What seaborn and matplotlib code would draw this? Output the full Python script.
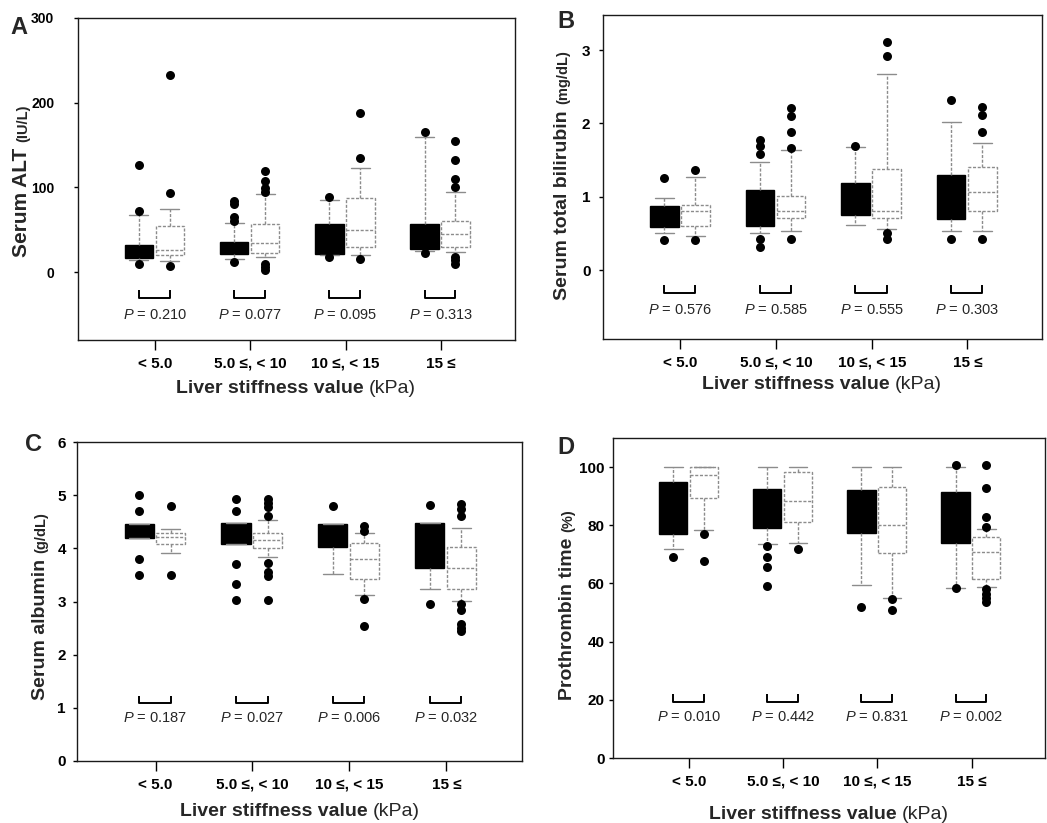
import matplotlib
matplotlib.use("Agg")
import matplotlib.pyplot as plt
import pandas as pd
import seaborn as sns

# ---------------------------------------------------------------- data
stiffness_bins = ["< 5.0", "5.0 \u2264, < 10", "10 \u2264, < 15", "15 \u2264"]

# five-number summaries per stiffness bin:
# (lower whisker, Q1, median, Q3, upper whisker)
alt_g1 = [(14, 17, 24, 32, 68), (16, 22, 28, 36, 58),
          (20, 22, 40, 57, 85), (25, 27, 42, 57, 160)]
alt_g2 = [(13, 20, 26, 54, 75), (18, 23, 35, 57, 92),
          (20, 30, 50, 87, 123), (24, 30, 45, 61, 95)]
alt_g1_out = [[126, 72, 10], [84, 80, 65, 61, 12], [89, 18], [165, 23]]
alt_g2_out = [[233, 94, 7], [119, 108, 99, 95, 10, 6, 3],
              [188, 135, 16], [155, 133, 110, 101, 18, 14, 10]]
alt_p = ["0.210", "0.077", "0.095", "0.313"]

bil_g1 = [(0.50, 0.59, 0.75, 0.87, 0.98), (0.51, 0.60, 0.85, 1.09, 1.47),
          (0.61, 0.75, 0.95, 1.19, 1.68), (0.53, 0.70, 1.00, 1.30, 2.02)]
bil_g2 = [(0.47, 0.60, 0.81, 0.89, 1.27), (0.53, 0.71, 0.81, 1.01, 1.64),
          (0.56, 0.71, 0.80, 1.38, 2.68), (0.53, 0.80, 1.06, 1.40, 1.74)]
bil_g1_out = [[1.26, 0.41], [1.78, 1.69, 1.58, 0.42, 0.31], [1.69], [2.32, 0.42]]
bil_g2_out = [[1.37, 0.41], [2.21, 2.10, 1.88, 1.67, 0.42],
              [3.11, 2.92, 0.50, 0.42], [2.23, 2.11, 1.89, 0.42]]
bil_p = ["0.576", "0.585", "0.555", "0.303"]

alb_g1 = [(4.20, 4.20, 4.35, 4.46, 4.46), (4.08, 4.08, 4.30, 4.48, 4.48),
          (3.51, 4.02, 4.30, 4.45, 4.45), (3.24, 3.63, 4.10, 4.48, 4.48)]
alb_g2 = [(3.92, 4.08, 4.22, 4.28, 4.37), (3.84, 4.00, 4.15, 4.28, 4.53),
          (3.12, 3.42, 3.80, 4.10, 4.28), (3.01, 3.24, 3.63, 4.02, 4.38)]
alb_g1_out = [[5.0, 4.7, 3.8, 3.5], [4.92, 4.7, 3.7, 3.32, 3.02], [4.8],
              [4.82, 2.95]]
alb_g2_out = [[4.8, 3.5], [4.92, 4.85, 4.78, 4.6, 3.73, 3.55, 3.48, 3.02],
              [4.42, 4.33, 3.04, 2.54],
              [4.84, 4.74, 4.6, 2.96, 2.84, 2.58, 2.5, 2.44]]
alb_p = ["0.187", "0.027", "0.006", "0.032"]

pt_g1 = [(72, 77, 86, 95, 100), (73.5, 79, 86, 92.5, 100),
         (59.5, 77.5, 85, 92, 100), (58.5, 74, 83, 91.5, 100)]
pt_g2 = [(78.5, 89.5, 97.3, 100, 100), (74, 81, 88.3, 98.3, 100),
         (55, 70.5, 80, 93, 100), (58.7, 61.5, 70.8, 75.8, 78.8)]
pt_g1_out = [[69], [73, 69, 65.5, 59], [52], [100.8, 58.5]]
pt_g2_out = [[77, 67.7], [72], [54.5, 50.8],
             [100.8, 92.8, 83, 79.5, 58, 56.5, 55, 53.5]]
pt_p = ["0.010", "0.442", "0.831", "0.002"]

# ---------------------------------------------------------------- style
sns.set_theme(style="ticks")
plt.rcParams["font.family"] = ["Liberation Sans", "DejaVu Sans"]
plt.rcParams["mathtext.fontset"] = "custom"
plt.rcParams["mathtext.it"] = "Liberation Sans:italic"
plt.rcParams["mathtext.rm"] = "Liberation Sans"

W_PX, H_PX = 1047, 823
fig = plt.figure(figsize=(W_PX / 100, H_PX / 100), dpi=100)
fig.patch.set_facecolor("white")

OFF1, OFF2, BOX_W = -0.17, 0.155, 0.30
GREY = "#8c8c8c"
DASH = (0, (2.2, 1.2))


def px_axes(l, t, r, b):
    return fig.add_axes([l / W_PX, 1 - b / H_PX, (r - l) / W_PX, (b - t) / H_PX])


def to_stats(summary):
    return [dict(whislo=s[0], q1=s[1], med=s[2], q3=s[3], whishi=s[4], fliers=[])
            for s in summary]


def draw_panel(ax, g1, g2, g1_out, g2_out, pvals, ylim, yticks, ypad, ysize,
               bracket_y, bracket_top, ptext_y):
    n = len(stiffness_bins)
    pos1 = [i + OFF1 for i in range(n)]
    pos2 = [i + OFF2 for i in range(n)]
    # solid boxes
    ax.bxp(to_stats(g1), positions=pos1, widths=BOX_W, capwidths=0.2,
           patch_artist=True, showfliers=False, manage_ticks=False,
           boxprops=dict(facecolor="black", edgecolor="black", lw=1),
           whiskerprops=dict(color=GREY, lw=1, ls=DASH),
           capprops=dict(color=GREY, lw=1),
           medianprops=dict(color="black", lw=1))
    # open boxes
    ax.bxp(to_stats(g2), positions=pos2, widths=BOX_W, capwidths=0.2,
           patch_artist=True, showfliers=False, manage_ticks=False,
           boxprops=dict(facecolor="white", edgecolor=GREY, lw=1, ls=DASH),
           whiskerprops=dict(color=GREY, lw=1, ls=DASH),
           capprops=dict(color=GREY, lw=1),
           medianprops=dict(color=GREY, lw=1, ls=DASH))
    # outliers
    rows = []
    for i in range(n):
        rows += [(pos1[i], v) for v in g1_out[i]]
        rows += [(pos2[i], v) for v in g2_out[i]]
    out = pd.DataFrame(rows, columns=["x", "value"])
    sns.scatterplot(data=out, x="x", y="value", ax=ax, color="black", s=42,
                    linewidth=0, zorder=5, legend=False)
    # comparison brackets and P values
    tr = ax.get_xaxis_transform()
    for i, p in enumerate(pvals):
        ax.plot([pos1[i], pos1[i], pos2[i], pos2[i]],
                [bracket_top, bracket_y, bracket_y, bracket_top],
                transform=tr, color="black", lw=1.4, clip_on=False,
                solid_capstyle="butt")
        ax.text(i, ptext_y, r"$\mathit{P}$ = " + p, transform=tr,
                ha="center", va="center", fontsize=10.5)
    ax.set_xlim(-0.81, 3.78)
    ax.set_ylim(*ylim)
    ax.set_xticks(range(n))
    ax.set_xticklabels(stiffness_bins)
    ax.set_yticks(yticks)
    ax.set_yticklabels([f"{t:g}" for t in yticks])
    ax.set_xlabel("")
    ax.set_ylabel("")
    ax.tick_params(axis="x", length=7, width=1, pad=5, labelsize=11,
                   colors="black")
    ax.tick_params(axis="y", length=3, width=1, pad=ypad, labelsize=ysize,
                   colors="black")
    for lbl in ax.get_xticklabels() + ax.get_yticklabels():
        lbl.set_fontweight("bold")
    for sp in ax.spines.values():
        sp.set_visible(True)
        sp.set_linewidth(1.0)
        sp.set_color("#1a1a1a")
    ax.set_facecolor("white")


axA = px_axes(78, 18, 515, 340)
draw_panel(axA, alt_g1, alt_g2, alt_g1_out, alt_g2_out, alt_p,
           (-80, 300), [0, 100, 200, 300], 14, 10, 0.13, 0.155, 0.078)
axB = px_axes(603, 15, 1042, 339)
draw_panel(axB, bil_g1, bil_g2, bil_g1_out, bil_g2_out, bil_p,
           (-0.94, 3.48), [0, 1, 2, 3], 6, 11, 0.142, 0.167, 0.09)
axC = px_axes(77, 442, 522, 761)
draw_panel(axC, alb_g1, alb_g2, alb_g1_out, alb_g2_out, alb_p,
           (0, 6), [0, 1, 2, 3, 4, 5, 6], 5, 11, 0.182, 0.204, 0.135)
axD = px_axes(613, 438, 1045, 758)
draw_panel(axD, pt_g1, pt_g2, pt_g1_out, pt_g2_out, pt_p,
           (0, 110), [0, 20, 40, 60, 80, 100], 3, 11, 0.175, 0.2, 0.128)

renderer = fig.canvas.get_renderer()


def stacked_ylabel(x_px, y_px, main, unit, size=14):
    t = fig.text(x_px / W_PX, 1 - y_px / H_PX, main, rotation=90,
                 rotation_mode="anchor", ha="left", va="baseline",
                 fontsize=size, fontweight="bold")
    bb = t.get_window_extent(renderer)
    fig.text(x_px / W_PX, (bb.y1 + 6) / H_PX, unit, rotation=90,
             rotation_mode="anchor", ha="left", va="baseline",
             fontsize=10.5, fontweight="bold")


def split_xlabel(cx_px, y_px, main, unit):
    t1 = fig.text(0, 1 - y_px / H_PX, main, ha="left", va="baseline",
                  fontsize=14, fontweight="bold")
    t2 = fig.text(0, 1 - y_px / H_PX, unit, ha="left", va="baseline",
                  fontsize=14, fontweight="normal")
    w1 = t1.get_window_extent(renderer).width
    w2 = t2.get_window_extent(renderer).width
    gap = 5
    x0 = cx_px - (w1 + gap + w2) / 2
    t1.set_x(x0 / W_PX)
    t2.set_x((x0 + w1 + gap) / W_PX)


stacked_ylabel(27, 257, "Serum ALT", "(IU/L)", size=15)
stacked_ylabel(567, 300, "Serum total bilirubin", "(mg/dL)")
stacked_ylabel(45, 700, "Serum albumin", "(g/dL)")
stacked_ylabel(572, 700, "Prothrombin time", "(%)")

split_xlabel(296, 393, "Liver stiffness value", "(kPa)")
split_xlabel(822, 389, "Liver stiffness value", "(kPa)")
split_xlabel(300, 816, "Liver stiffness value", "(kPa)")
split_xlabel(829, 819, "Liver stiffness value", "(kPa)")

for letter, (x, y) in {"A": (19, 27), "B": (566, 22),
                       "C": (33, 444), "D": (566, 448)}.items():
    fig.text(x / W_PX, 1 - y / H_PX, letter, ha="center", va="center",
             fontsize=17, fontweight="bold")

fig.savefig("out.png", dpi=100)
